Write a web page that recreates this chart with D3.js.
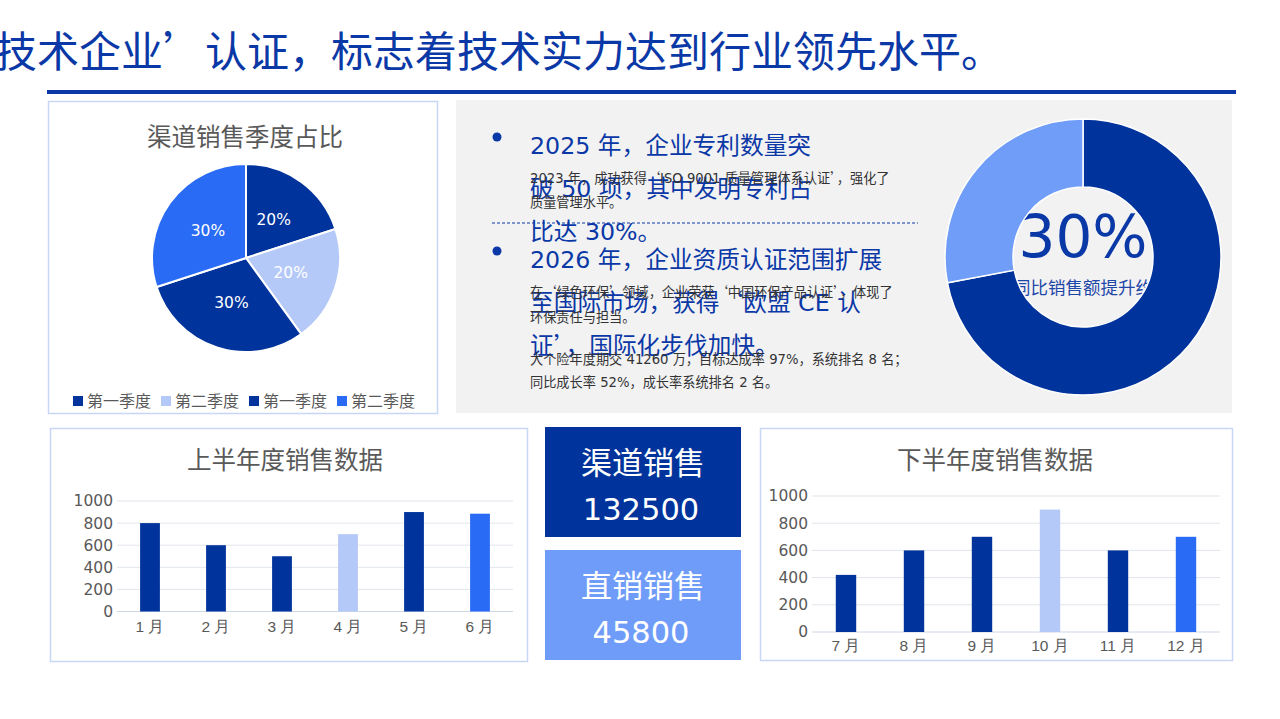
<!DOCTYPE html>
<html>
<head>
<meta charset="utf-8">
<script src="https://cdn.jsdelivr.net/npm/d3@7"></script>
<style>
  body { margin: 0; background: #ffffff; }
  svg { display: block; font-family: "DejaVu Sans", "Noto Sans CJK SC", sans-serif; }
</style>
</head>
<body>
<div id="wrapper"></div>
<script>
// Data
const headline = "2024 年，企业通过‘国家高新技术企业’认证，标志着技术实力达到行业领先水平。";

const quarterLabels = ["第一季度", "第二季度", "第一季度", "第二季度"];
const quarterValues = [20, 20, 30, 30];

const firstHalfMonths = ["1 月", "2 月", "3 月", "4 月", "5 月", "6 月"];
const firstHalfValues = [800, 600, 500, 700, 900, 885];

const secondHalfMonths = ["7 月", "8 月", "9 月", "10 月", "11 月", "12 月"];
const secondHalfValues = [420, 600, 700, 900, 600, 700];

const yTicks = [0, 200, 400, 600, 800, 1000];

const kpiLabels = ["渠道销售", "直销销售"];
const kpiValues = [132500, 45800];

const donutValues = [72, 28];
const donutLabel = "30%";
const donutCaption = "同比销售额提升约";

const bulletLines = [
    ["2025 年，企业专利数量突", "破 50 项，其中发明专利占", "比达 30%。"],
    ["2026 年，企业资质认证范围扩展", "至国际市场，获得‘欧盟 CE 认", "证’，国际化步伐加快。"]
];
const noteLines = [
    ["2023 年，成功获得‘ISO 9001 质量管理体系认证’，强化了", "质量管理水平。"],
    ["在‘绿色环保’领域，企业荣获‘中国环保产品认证’，体现了", "环保责任与担当。"],
    ["大个险年度期交 41260 万，目标达成率 97%，系统排名 8 名；", "同比成长率 52%，成长率系统排名 2 名。"]
];

const dark = "#00339b";
const light = "#b5c9f9";
const bright = "#2a6bf5";
const accent = "#0a38a6";
const cjk = "Noto Sans CJK SC";

const svg = d3.select("#wrapper")
    .append("svg")
    .attr("width", 1280)
    .attr("height", 719);

// curly quotes come out narrow in DejaVu, so give them the CJK face
function writeRuns(sel, str) {
    str.split(/([‘’“”])/).filter(s => s.length).forEach(part => {
        const t = sel.append("tspan").text(part);
        if (/^[‘’“”]$/.test(part)) t.attr("font-family", cjk);
    });
}

// Top headline (runs off the left edge) and rule
svg.append("text")
    .attr("x", 1003).attr("y", 67)
    .attr("text-anchor", "end")
    .attr("font-family", cjk)
    .attr("font-size", 42)
    .attr("fill", accent)
    .text(headline);

svg.append("rect")
    .attr("x", 47).attr("y", 90)
    .attr("width", 1189).attr("height", 4)
    .attr("fill", accent);

// ---------- Pie card ----------
svg.append("rect")
    .attr("x", 48.5).attr("y", 101.5)
    .attr("width", 389).attr("height", 312)
    .attr("fill", "#fff").attr("stroke", "#c9d7f7").attr("stroke-width", 1.5);

svg.append("text")
    .attr("x", 245).attr("y", 146)
    .attr("text-anchor", "middle")
    .attr("font-size", 24.5)
    .attr("fill", "#595959")
    .text("渠道销售季度占比");

const pieColors = [dark, light, dark, bright];
const pie = d3.pie().sort(null).value(d => d);
const pieArc = d3.arc().innerRadius(0).outerRadius(94);
const pieG = svg.append("g").attr("transform", "translate(246,258)");

pieG.selectAll("path")
    .data(pie(quarterValues))
    .join("path")
    .attr("d", pieArc)
    .attr("fill", (d, i) => pieColors[i])
    .attr("stroke", "#fff")
    .attr("stroke-width", 2);

pieG.selectAll("text")
    .data(pie(quarterValues))
    .join("text")
    .attr("transform", d => `translate(${pieArc.centroid(d)})`)
    .attr("text-anchor", "middle")
    .attr("dy", "0.35em")
    .attr("font-size", 15.5)
    .attr("fill", "#fff")
    .text(d => d.data + "%");

// legend
const legend = svg.append("g").attr("transform", "translate(73,407)");
const legendItem = legend.selectAll("g")
    .data(quarterLabels)
    .join("g")
    .attr("transform", (d, i) => `translate(${i * 88},0)`);
legendItem.append("rect")
    .attr("x", 0).attr("y", -11)
    .attr("width", 10).attr("height", 10)
    .attr("fill", (d, i) => pieColors[i]);
legendItem.append("text")
    .attr("x", 14)
    .attr("font-size", 16)
    .attr("fill", "#595959")
    .text(d => d);

// ---------- Gray text panel ----------
svg.append("rect")
    .attr("x", 456).attr("y", 100)
    .attr("width", 776).attr("height", 313)
    .attr("fill", "#f2f2f3");

const bulletTops = [154, 268];
bulletLines.forEach((lines, b) => {
    svg.append("circle")
        .attr("cx", 497).attr("cy", bulletTops[b] - 17)
        .attr("r", 4.5)
        .attr("fill", accent);
    lines.forEach((line, i) => {
        const t = svg.append("text")
            .attr("x", 530)
            .attr("y", bulletTops[b] + i * 43)
            .attr("font-size", 23.7)
            .attr("fill", accent);
        writeRuns(t, line);
    });
});

svg.append("line")
    .attr("x1", 492).attr("x2", 918)
    .attr("y1", 223).attr("y2", 223)
    .attr("stroke", accent)
    .attr("stroke-width", 1)
    .attr("stroke-dasharray", "3,2");

const noteTops = [183, 297, 364];
const noteGaps = [24, 25, 23];
noteLines.forEach((lines, n) => {
    lines.forEach((line, i) => {
        const t = svg.append("text")
            .attr("x", 530)
            .attr("y", noteTops[n] + i * noteGaps[n])
            .attr("font-size", 13.2)
            .attr("fill", "#333");
        writeRuns(t, line);
    });
});

// ---------- Donut ----------
const donutG = svg.append("g").attr("transform", "translate(1083,257)");
// caption sits under the ring, so draw it first
donutG.append("text")
    .attr("y", 37)
    .attr("text-anchor", "middle")
    .attr("font-size", 17.5)
    .attr("fill", "#1f47a8")
    .text(donutCaption);
donutG.append("text")
    .attr("y", 0)
    .attr("text-anchor", "middle")
    .attr("font-size", 58)
    .attr("fill", accent)
    .text(donutLabel);

const donutArc = d3.arc().innerRadius(70).outerRadius(138);
donutG.selectAll("path")
    .data(pie(donutValues))
    .join("path")
    .attr("d", donutArc)
    .attr("fill", (d, i) => i === 0 ? dark : "#6f9df8")
    .attr("stroke", "#fff")
    .attr("stroke-width", 1.5);

// ---------- Bar charts ----------
function barCard(opt) {
    svg.append("rect")
        .attr("x", opt.box[0] + 0.5).attr("y", opt.box[1] + 0.5)
        .attr("width", opt.box[2]).attr("height", opt.box[3])
        .attr("fill", "#fff").attr("stroke", "#c9d7f7").attr("stroke-width", 1.5);

    svg.append("text")
        .attr("x", opt.titleX).attr("y", opt.titleY)
        .attr("text-anchor", "middle")
        .attr("font-size", 24.5)
        .attr("fill", "#595959")
        .text(opt.title);

    const x = d3.scaleBand()
        .domain(opt.months)
        .range(opt.xRange)
        .paddingInner(0.7)
        .paddingOuter(0.35);
    const y = d3.scaleLinear()
        .domain([0, 1000])
        .range(opt.yRange);

    const g = svg.append("g");

    // gridlines
    g.selectAll("line.grid")
        .data(yTicks)
        .join("line")
        .attr("class", "grid")
        .attr("x1", opt.xRange[0]).attr("x2", opt.xRange[1])
        .attr("y1", d => y(d)).attr("y2", d => y(d))
        .attr("stroke", d => d === 0 ? "#cfd6e4" : "#e1e5ec")
        .attr("stroke-width", 1);

    const yAxis = g.append("g")
        .attr("transform", `translate(${opt.xRange[0]},0)`)
        .call(d3.axisLeft(y).tickValues(yTicks).tickFormat(d3.format("d"))
            .tickSize(0).tickPadding(opt.tickPad));
    yAxis.select(".domain").remove();
    yAxis.selectAll("text")
        .attr("font-size", 15.5)
        .attr("font-family", "DejaVu Sans")
        .attr("fill", "#595959");

    const xAxis = g.append("g")
        .attr("transform", `translate(0,${opt.yRange[0]})`)
        .call(d3.axisBottom(x).tickSize(0).tickPadding(opt.monthPad));
    xAxis.select(".domain").remove();
    xAxis.selectAll("text")
        .attr("font-size", 15.5)
        .attr("fill", "#595959");

    g.selectAll("rect.bar")
        .data(opt.values)
        .join("rect")
        .attr("class", "bar")
        .attr("x", (d, i) => x(opt.months[i]))
        .attr("width", x.bandwidth())
        .attr("y", d => y(d))
        .attr("height", d => y(0) - y(d))
        .attr("fill", (d, i) => opt.colors[i]);
}

barCard({
    box: [50, 428, 477, 233],
    title: "上半年度销售数据",
    titleX: 285, titleY: 469,
    months: firstHalfMonths,
    values: firstHalfValues,
    colors: [dark, dark, dark, light, dark, bright],
    xRange: [117, 513],
    yRange: [611.5, 501],
    tickPad: 4,
    monthPad: 9
});

barCard({
    box: [760, 428, 472, 232],
    title: "下半年度销售数据",
    titleX: 995, titleY: 469,
    months: secondHalfMonths,
    values: secondHalfValues,
    colors: [dark, dark, dark, light, dark, bright],
    xRange: [812, 1220],
    yRange: [632, 496],
    tickPad: 4,
    monthPad: 8
});

// ---------- KPI boxes ----------
const kpiFills = [dark, "#6f9cf8"];
const kpiTops = [427, 550];
kpiLabels.forEach((label, i) => {
    svg.append("rect")
        .attr("x", 545).attr("y", kpiTops[i])
        .attr("width", 196).attr("height", 110)
        .attr("fill", kpiFills[i]);
    svg.append("text")
        .attr("x", 643).attr("y", kpiTops[i] + 47)
        .attr("text-anchor", "middle")
        .attr("font-size", 31)
        .attr("fill", "#fff")
        .text(label);
    svg.append("text")
        .attr("x", 641).attr("y", kpiTops[i] + 93)
        .attr("text-anchor", "middle")
        .attr("font-size", 30.5)
        .attr("fill", "#fff")
        .text(kpiValues[i]);
});
</script>
</body>
</html>
